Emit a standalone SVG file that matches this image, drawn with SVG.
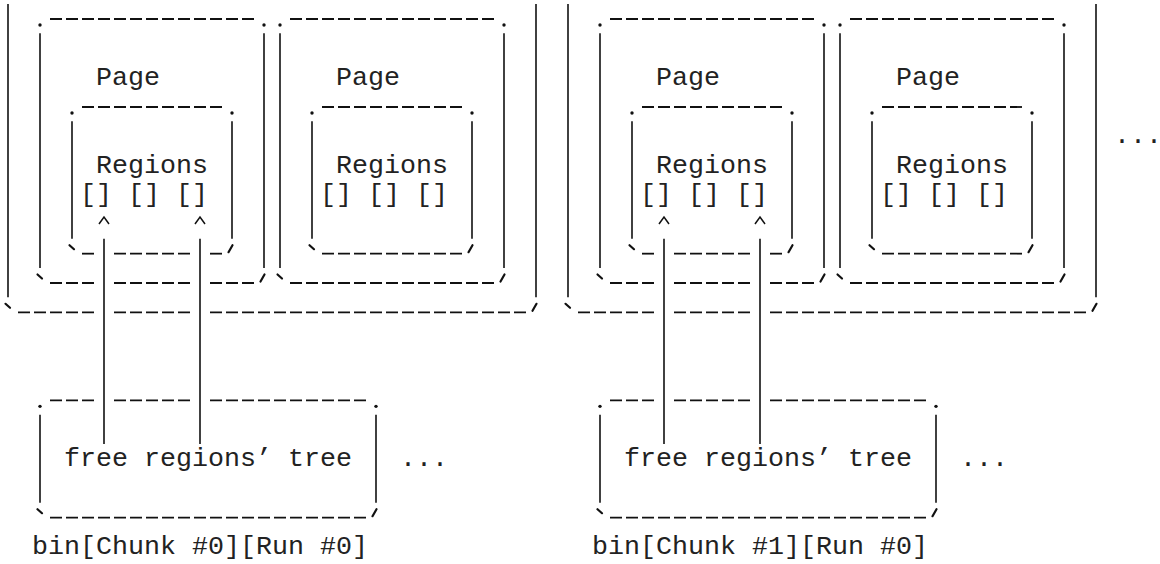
<svg xmlns="http://www.w3.org/2000/svg" width="1160" height="564" viewBox="0 0 1160 564">
<style>
.bg{fill:#fff}
.bar{stroke:#111;stroke-width:1.6;fill:none}
.dash{stroke:#111;stroke-width:1.8;stroke-dasharray:12 4;fill:none}
.tick{stroke:#111;stroke-width:2.2;stroke-linecap:round;fill:none}
.dot{fill:#111}
.caret{stroke:#111;stroke-width:1.5;fill:none;stroke-linejoin:miter}
.t{font-family:"Liberation Mono","DejaVu Sans Mono",monospace;font-size:26.67px;fill:#222;white-space:pre}
</style>
<defs>
<circle id="cdot" r="1.7" class="dot"/>
</defs>
<rect class="bg" x="0" y="0" width="1160" height="564"/>

<!-- ===== Left half: Chunk #0 ===== -->
<g id="chunk0">
  <line class="bar" x1="8" y1="4" x2="8" y2="297.33"/>
  <line class="bar" x1="536" y1="4" x2="536" y2="297.33"/>
  <line class="tick" x1="5.5" y1="303.8" x2="10" y2="307.8"/>
  <line class="dash" x1="18" y1="312.33" x2="94" y2="312.33"/>
  <line class="dash" x1="114" y1="312.33" x2="190" y2="312.33"/>
  <line class="dash" x1="210" y1="312.33" x2="526" y2="312.33"/>
  <line class="tick" x1="536.5" y1="303.8" x2="532.5" y2="310.8"/>
</g>
<g id="chunk0-page0">
  <line class="dash" x1="50" y1="19" x2="254" y2="19"/>
  <use href="#cdot" x="40" y="25"/><use href="#cdot" x="264" y="25"/>
  <line class="bar" x1="40" y1="33.33" x2="40" y2="268"/>
  <line class="bar" x1="264" y1="33.33" x2="264" y2="268"/>
  <line class="tick" x1="37.5" y1="274.5" x2="42" y2="278.5"/>
  <line class="dash" x1="50" y1="283" x2="94" y2="283"/>
  <line class="dash" x1="114" y1="283" x2="190" y2="283"/>
  <line class="dash" x1="210" y1="283" x2="254" y2="283"/>
  <line class="tick" x1="264.5" y1="274.5" x2="260.5" y2="281.5"/>
  <text class="t" x="96" y="84.67">Page</text>
</g>
<g id="chunk0-page0-regions">
  <line class="dash" x1="82" y1="107" x2="222" y2="107"/>
  <use href="#cdot" x="72" y="113"/><use href="#cdot" x="232" y="113"/>
  <line class="bar" x1="72" y1="121.33" x2="72" y2="238.67"/>
  <line class="bar" x1="232" y1="121.33" x2="232" y2="238.67"/>
  <line class="tick" x1="69.5" y1="245.2" x2="74" y2="249.2"/>
  <line class="dash" x1="82" y1="253.67" x2="94" y2="253.67"/>
  <line class="dash" x1="114" y1="253.67" x2="190" y2="253.67"/>
  <line class="dash" x1="210" y1="253.67" x2="222" y2="253.67"/>
  <line class="tick" x1="232.5" y1="245.2" x2="228.5" y2="252.2"/>
  <text class="t" x="96" y="172.67">Regions</text>
  <text class="t" x="80" y="202">[] [] []</text>
</g>
<g id="chunk0-page1">
  <line class="dash" x1="290" y1="19" x2="494" y2="19"/>
  <use href="#cdot" x="280" y="25"/><use href="#cdot" x="504" y="25"/>
  <line class="bar" x1="280" y1="33.33" x2="280" y2="268"/>
  <line class="bar" x1="504" y1="33.33" x2="504" y2="268"/>
  <line class="tick" x1="277.5" y1="274.5" x2="282" y2="278.5"/>
  <line class="dash" x1="290" y1="283" x2="494" y2="283"/>
  <line class="tick" x1="504.5" y1="274.5" x2="500.5" y2="281.5"/>
  <text class="t" x="336" y="84.67">Page</text>
</g>
<g id="chunk0-page1-regions">
  <line class="dash" x1="322" y1="107" x2="462" y2="107"/>
  <use href="#cdot" x="312" y="113"/><use href="#cdot" x="472" y="113"/>
  <line class="bar" x1="312" y1="121.33" x2="312" y2="238.67"/>
  <line class="bar" x1="472" y1="121.33" x2="472" y2="238.67"/>
  <line class="tick" x1="309.5" y1="245.2" x2="314" y2="249.2"/>
  <line class="dash" x1="322" y1="253.67" x2="462" y2="253.67"/>
  <line class="tick" x1="472.5" y1="245.2" x2="468.5" y2="252.2"/>
  <text class="t" x="336" y="172.67">Regions</text>
  <text class="t" x="320" y="202">[] [] []</text>
</g>
<g id="chunk0-tree">
  <line class="dash" x1="50" y1="400.33" x2="94" y2="400.33"/>
  <line class="dash" x1="114" y1="400.33" x2="190" y2="400.33"/>
  <line class="dash" x1="210" y1="400.33" x2="366" y2="400.33"/>
  <use href="#cdot" x="40" y="406.33"/><use href="#cdot" x="376" y="406.33"/>
  <line class="bar" x1="40" y1="414.67" x2="40" y2="502.67"/>
  <line class="bar" x1="376" y1="414.67" x2="376" y2="502.67"/>
  <line class="tick" x1="37.5" y1="509.2" x2="42" y2="513.2"/>
  <line class="dash" x1="50" y1="517.67" x2="366" y2="517.67"/>
  <line class="tick" x1="376.5" y1="509.2" x2="372.5" y2="516.2"/>
  <text class="t" x="64" y="466">free regions’ tree</text>
  <text class="t" x="400" y="466">...</text>
</g>
<g id="chunk0-label">
  <text class="t" x="32" y="554">bin[Chunk #0][Run #0]</text>
</g>

<!-- ===== Right half: Chunk #1 ===== -->
<g id="chunk1">
  <line class="bar" x1="568" y1="4" x2="568" y2="297.33"/>
  <line class="bar" x1="1096" y1="4" x2="1096" y2="297.33"/>
  <line class="tick" x1="565.5" y1="303.8" x2="570" y2="307.8"/>
  <line class="dash" x1="578" y1="312.33" x2="654" y2="312.33"/>
  <line class="dash" x1="674" y1="312.33" x2="750" y2="312.33"/>
  <line class="dash" x1="770" y1="312.33" x2="1086" y2="312.33"/>
  <line class="tick" x1="1096.5" y1="303.8" x2="1092.5" y2="310.8"/>
</g>
<g id="chunk1-page0">
  <line class="dash" x1="610" y1="19" x2="814" y2="19"/>
  <use href="#cdot" x="600" y="25"/><use href="#cdot" x="824" y="25"/>
  <line class="bar" x1="600" y1="33.33" x2="600" y2="268"/>
  <line class="bar" x1="824" y1="33.33" x2="824" y2="268"/>
  <line class="tick" x1="597.5" y1="274.5" x2="602" y2="278.5"/>
  <line class="dash" x1="610" y1="283" x2="654" y2="283"/>
  <line class="dash" x1="674" y1="283" x2="750" y2="283"/>
  <line class="dash" x1="770" y1="283" x2="814" y2="283"/>
  <line class="tick" x1="824.5" y1="274.5" x2="820.5" y2="281.5"/>
  <text class="t" x="656" y="84.67">Page</text>
</g>
<g id="chunk1-page0-regions">
  <line class="dash" x1="642" y1="107" x2="782" y2="107"/>
  <use href="#cdot" x="632" y="113"/><use href="#cdot" x="792" y="113"/>
  <line class="bar" x1="632" y1="121.33" x2="632" y2="238.67"/>
  <line class="bar" x1="792" y1="121.33" x2="792" y2="238.67"/>
  <line class="tick" x1="629.5" y1="245.2" x2="634" y2="249.2"/>
  <line class="dash" x1="642" y1="253.67" x2="654" y2="253.67"/>
  <line class="dash" x1="674" y1="253.67" x2="750" y2="253.67"/>
  <line class="dash" x1="770" y1="253.67" x2="782" y2="253.67"/>
  <line class="tick" x1="792.5" y1="245.2" x2="788.5" y2="252.2"/>
  <text class="t" x="656" y="172.67">Regions</text>
  <text class="t" x="640" y="202">[] [] []</text>
</g>
<g id="chunk1-page1">
  <line class="dash" x1="850" y1="19" x2="1054" y2="19"/>
  <use href="#cdot" x="840" y="25"/><use href="#cdot" x="1064" y="25"/>
  <line class="bar" x1="840" y1="33.33" x2="840" y2="268"/>
  <line class="bar" x1="1064" y1="33.33" x2="1064" y2="268"/>
  <line class="tick" x1="837.5" y1="274.5" x2="842" y2="278.5"/>
  <line class="dash" x1="850" y1="283" x2="1054" y2="283"/>
  <line class="tick" x1="1064.5" y1="274.5" x2="1060.5" y2="281.5"/>
  <text class="t" x="896" y="84.67">Page</text>
</g>
<g id="chunk1-page1-regions">
  <line class="dash" x1="882" y1="107" x2="1022" y2="107"/>
  <use href="#cdot" x="872" y="113"/><use href="#cdot" x="1032" y="113"/>
  <line class="bar" x1="872" y1="121.33" x2="872" y2="238.67"/>
  <line class="bar" x1="1032" y1="121.33" x2="1032" y2="238.67"/>
  <line class="tick" x1="869.5" y1="245.2" x2="874" y2="249.2"/>
  <line class="dash" x1="882" y1="253.67" x2="1022" y2="253.67"/>
  <line class="tick" x1="1032.5" y1="245.2" x2="1028.5" y2="252.2"/>
  <text class="t" x="896" y="172.67">Regions</text>
  <text class="t" x="880" y="202">[] [] []</text>
</g>
<g id="chunk1-tree">
  <line class="dash" x1="610" y1="400.33" x2="654" y2="400.33"/>
  <line class="dash" x1="674" y1="400.33" x2="750" y2="400.33"/>
  <line class="dash" x1="770" y1="400.33" x2="926" y2="400.33"/>
  <use href="#cdot" x="600" y="406.33"/><use href="#cdot" x="936" y="406.33"/>
  <line class="bar" x1="600" y1="414.67" x2="600" y2="502.67"/>
  <line class="bar" x1="936" y1="414.67" x2="936" y2="502.67"/>
  <line class="tick" x1="597.5" y1="509.2" x2="602" y2="513.2"/>
  <line class="dash" x1="610" y1="517.67" x2="926" y2="517.67"/>
  <line class="tick" x1="936.5" y1="509.2" x2="932.5" y2="516.2"/>
  <text class="t" x="624" y="466">free regions’ tree</text>
  <text class="t" x="960" y="466">...</text>
</g>
<g id="chunk1-label">
  <text class="t" x="592" y="554">bin[Chunk #1][Run #0]</text>
</g>
<g id="more-chunks">
  <text class="t" x="1114" y="143.33">...</text>
</g>

<!-- ===== Connectors ===== -->
<g id="connectors">
  <line class="bar" x1="104" y1="238.67" x2="104" y2="444"/>
  <line class="bar" x1="200" y1="238.67" x2="200" y2="444"/>
  <polyline class="caret" points="99,224 104,217 109,224"/>
  <polyline class="caret" points="195,224 200,217 205,224"/>
  <line class="bar" x1="664" y1="238.67" x2="664" y2="444"/>
  <line class="bar" x1="760" y1="238.67" x2="760" y2="444"/>
  <polyline class="caret" points="659,224 664,217 669,224"/>
  <polyline class="caret" points="755,224 760,217 765,224"/>
</g>
</svg>
